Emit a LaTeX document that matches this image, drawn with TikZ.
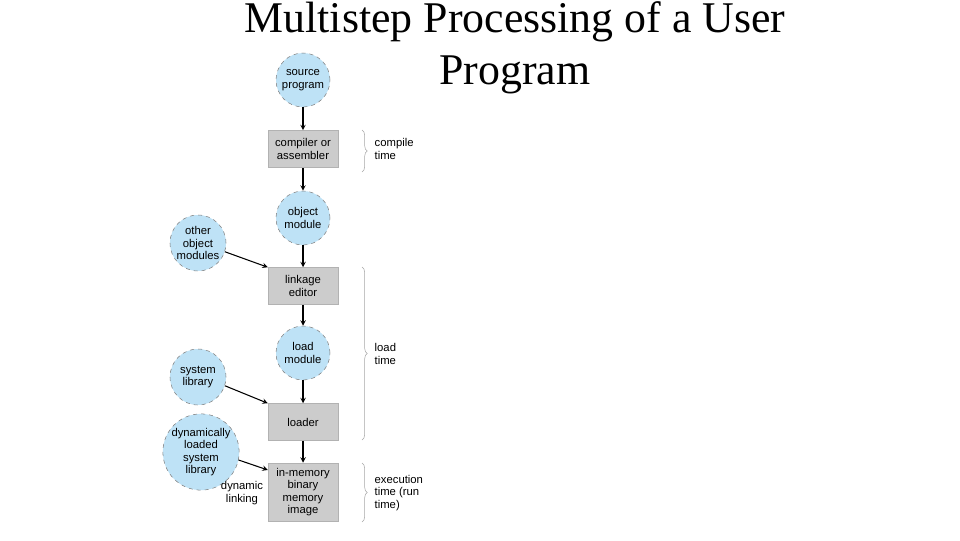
\documentclass[tikz,border=0pt]{standalone}
\usepackage{fontspec}
\setmainfont{Liberation Sans}
\newfontfamily\titlefont{Liberation Serif}
\usetikzlibrary{positioning,decorations.pathreplacing}
\definecolor{circblue}{RGB}{190,226,246}
\definecolor{boxgray}{RGB}{204,204,204}

\begin{document}
\begin{tikzpicture}[
    x=0.02646cm,y=-0.02646cm,
    font=\fontsize{8.5}{9.5}\selectfont,
    circ/.style={circle,draw=gray,dashed,fill=circblue,minimum size=54*0.02646cm,inner sep=0pt,align=center},
    box/.style={rectangle,draw=gray!60,fill=boxgray,minimum width=70*0.02646cm,minimum height=37*0.02646cm,inner sep=0pt,align=center},
    arrow/.style={->,>=stealth,thick},
    brace/.style={decorate,decoration={brace,amplitude=4pt},draw=gray!70,thin}
]
\useasboundingbox (0,0) rectangle (960,540);

%--- Title ---%
\node[font=\titlefont\fontsize{33}{39}\selectfont,align=center] (title) at (515,48) {Multistep Processing of a User\\Program};

%--- Main column ---%
\node[circ] (source) at (303,80) {source\\program};
\node[box] (compiler) at (303,149) {compiler or\\assembler};
\node[circ] (object) at (303,218) {object\\module};
\node[box] (linkage) at (303,286) {linkage\\editor};
\node[circ] (load) at (303,353) {load\\module};
\node[box] (loader) at (303,422) {loader};
\node[box,minimum height=58*0.02646cm] (inmem) at (303,492) {in-memory\\binary\\memory\\image};

%--- Side inputs ---%
\node[circ,minimum size=56*0.02646cm] (other) at (198,243) {other\\object\\modules};
\node[circ,minimum size=56*0.02646cm] (syslib) at (198,377) {system\\library};
\node[circ,minimum size=66*0.02646cm] (dynlib) at (201,452) {dynamically\\loaded\\system\\library};
\node[align=center] (dynlink) at (242,493) {dynamic\\linking};

%--- Arrows ---%
\draw[arrow] (source) -- (compiler);
\draw[arrow] (compiler) -- (object);
\draw[arrow] (object) -- (linkage);
\draw[arrow] (linkage) -- (load);
\draw[arrow] (load) -- (loader);
\draw[arrow] (loader) -- (inmem);
\draw[arrow] (other.-18) -- (linkage.north west);
\draw[arrow] (syslib.-18) -- (loader.north west);
\draw[arrow] (dynlib.-12) -- (inmem.148);

%--- Time braces ---%
\coordinate (c1) at (362,130);
\coordinate (c2) at (362,172);
\coordinate (l1) at (362,267);
\coordinate (l2) at (362,440);
\coordinate (e1) at (362,463);
\coordinate (e2) at (362,522);
\draw[brace] (c1) -- (c2);
\draw[brace] (l1) -- (l2);
\draw[brace] (e1) -- (e2);
\node[anchor=west,align=left] (ctime) at (370,149) {compile\\time};
\node[anchor=west,align=left] (ltime) at (370,354) {load\\time};
\node[anchor=west,align=left] (etime) at (370,493) {execution\\time (run\\time)};
\end{tikzpicture}
\end{document}
